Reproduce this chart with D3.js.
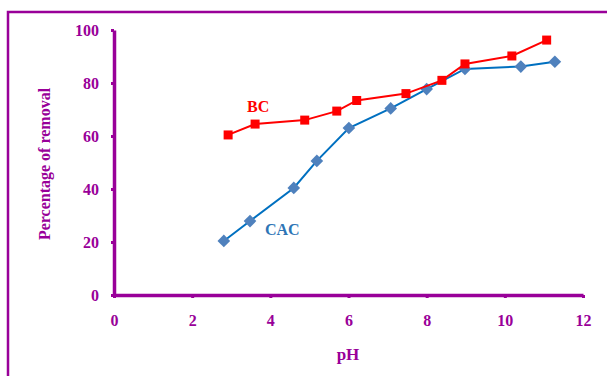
<!DOCTYPE html>
<html>
<head>
<meta charset="utf-8">
<script src="https://cdn.jsdelivr.net/npm/d3@7"></script>
<style>
  body { margin: 0; background: #fff; }
  svg text { font-family: "Liberation Serif", "DejaVu Serif", serif; font-weight: bold; }
</style>
</head>
<body>
<div id="chart"></div>
<script>
// pH values and % removal
const bcPH   = [2.92, 3.61, 4.88, 5.70, 6.21, 7.47, 8.39, 8.98, 10.18, 11.07];
const bcRem  = [60.4, 64.5, 66.0, 69.4, 73.4, 76.0, 81.0, 87.2, 90.2, 96.2];
const cacPH  = [2.81, 3.48, 4.60, 5.19, 6.01, 7.08, 8.00, 8.98, 10.41, 11.28];
const cacRem = [20.4, 27.9, 40.4, 50.6, 63.0, 70.4, 77.7, 85.3, 86.2, 88.0];
const xTicks = [0, 2, 4, 6, 8, 10, 12];
const yTicks = [0, 20, 40, 60, 80, 100];

const W = 607, H = 376;
const purple = "#990099";

let svg = d3.select("#chart").append("svg")
    .attr("width", W)
    .attr("height", H);

// outer frame
svg.append("rect")
    .attr("x", 8).attr("y", 12)
    .attr("width", W + 20).attr("height", H + 20)
    .attr("fill", "none")
    .attr("stroke", purple)
    .attr("stroke-width", 2.5);

let x = d3.scaleLinear().domain([0, 12]).range([114, 583]);
let y = d3.scaleLinear().domain([0, 100]).range([295, 30]);

// x axis
let xAxis = svg.append("g")
    .attr("transform", "translate(0," + y(0) + ")")
    .call(d3.axisBottom(x).tickValues(xTicks).tickSize(3).tickPadding(17).tickSizeOuter(0));
xAxis.select(".domain").attr("stroke", purple).attr("stroke-width", 3.5);
xAxis.selectAll(".tick line").attr("stroke", purple).attr("stroke-width", 3);
xAxis.selectAll("text")
    .attr("fill", purple)
    .style("font-size", "16px")
    .style("font-family", "Liberation Serif, serif")
    .style("font-weight", "bold");

// y axis
let yAxis = svg.append("g")
    .attr("transform", "translate(" + x(0) + ",0)")
    .call(d3.axisLeft(y).tickValues(yTicks).tickSize(3).tickPadding(12).tickSizeOuter(0));
yAxis.select(".domain").attr("stroke", purple).attr("stroke-width", 3.5);
yAxis.selectAll(".tick line").attr("stroke", purple).attr("stroke-width", 3);
yAxis.selectAll("text")
    .attr("fill", purple)
    .style("font-size", "16px")
    .style("font-family", "Liberation Serif, serif")
    .style("font-weight", "bold");

// axis titles
svg.append("text")
    .attr("x", 348).attr("y", 360)
    .attr("text-anchor", "middle")
    .attr("fill", purple)
    .style("font-size", "17px")
    .text("pH");

svg.append("text")
    .attr("transform", "translate(50,164) rotate(-90)")
    .attr("text-anchor", "middle")
    .attr("fill", purple)
    .style("font-size", "16px")
    .text("Percentage of removal");

let line = d3.line()
    .x(d => x(d[0]))
    .y(d => y(d[1]));

let bc  = bcPH.map((d, i) => [d, bcRem[i]]);
let cac = cacPH.map((d, i) => [d, cacRem[i]]);

// CAC series
svg.append("path")
    .datum(cac)
    .attr("d", line)
    .attr("fill", "none")
    .attr("stroke", "#0070c0")
    .attr("stroke-width", 2);

svg.selectAll(".cac").data(cac).enter()
    .append("path").attr("class", "cac")
    .attr("d", d3.symbol().type(d3.symbolSquare).size(80))
    .attr("transform", d => "translate(" + x(d[0]) + "," + y(d[1]) + ") rotate(45)")
    .attr("fill", "#4f81bd");

// BC series
svg.append("path")
    .datum(bc)
    .attr("d", line)
    .attr("fill", "none")
    .attr("stroke", "#ff0000")
    .attr("stroke-width", 2);

svg.selectAll(".bc").data(bc).enter()
    .append("rect").attr("class", "bc")
    .attr("x", d => x(d[0]) - 4.5)
    .attr("y", d => y(d[1]) - 4.5)
    .attr("width", 9).attr("height", 9)
    .attr("fill", "#ff0000");

// series labels
svg.append("text")
    .attr("x", 247).attr("y", 112)
    .attr("fill", "#ff0000")
    .style("font-size", "16px")
    .text("BC");

svg.append("text")
    .attr("x", 265).attr("y", 235)
    .attr("fill", "#2e75b6")
    .style("font-size", "16px")
    .text("CAC");
</script>
</body>
</html>
